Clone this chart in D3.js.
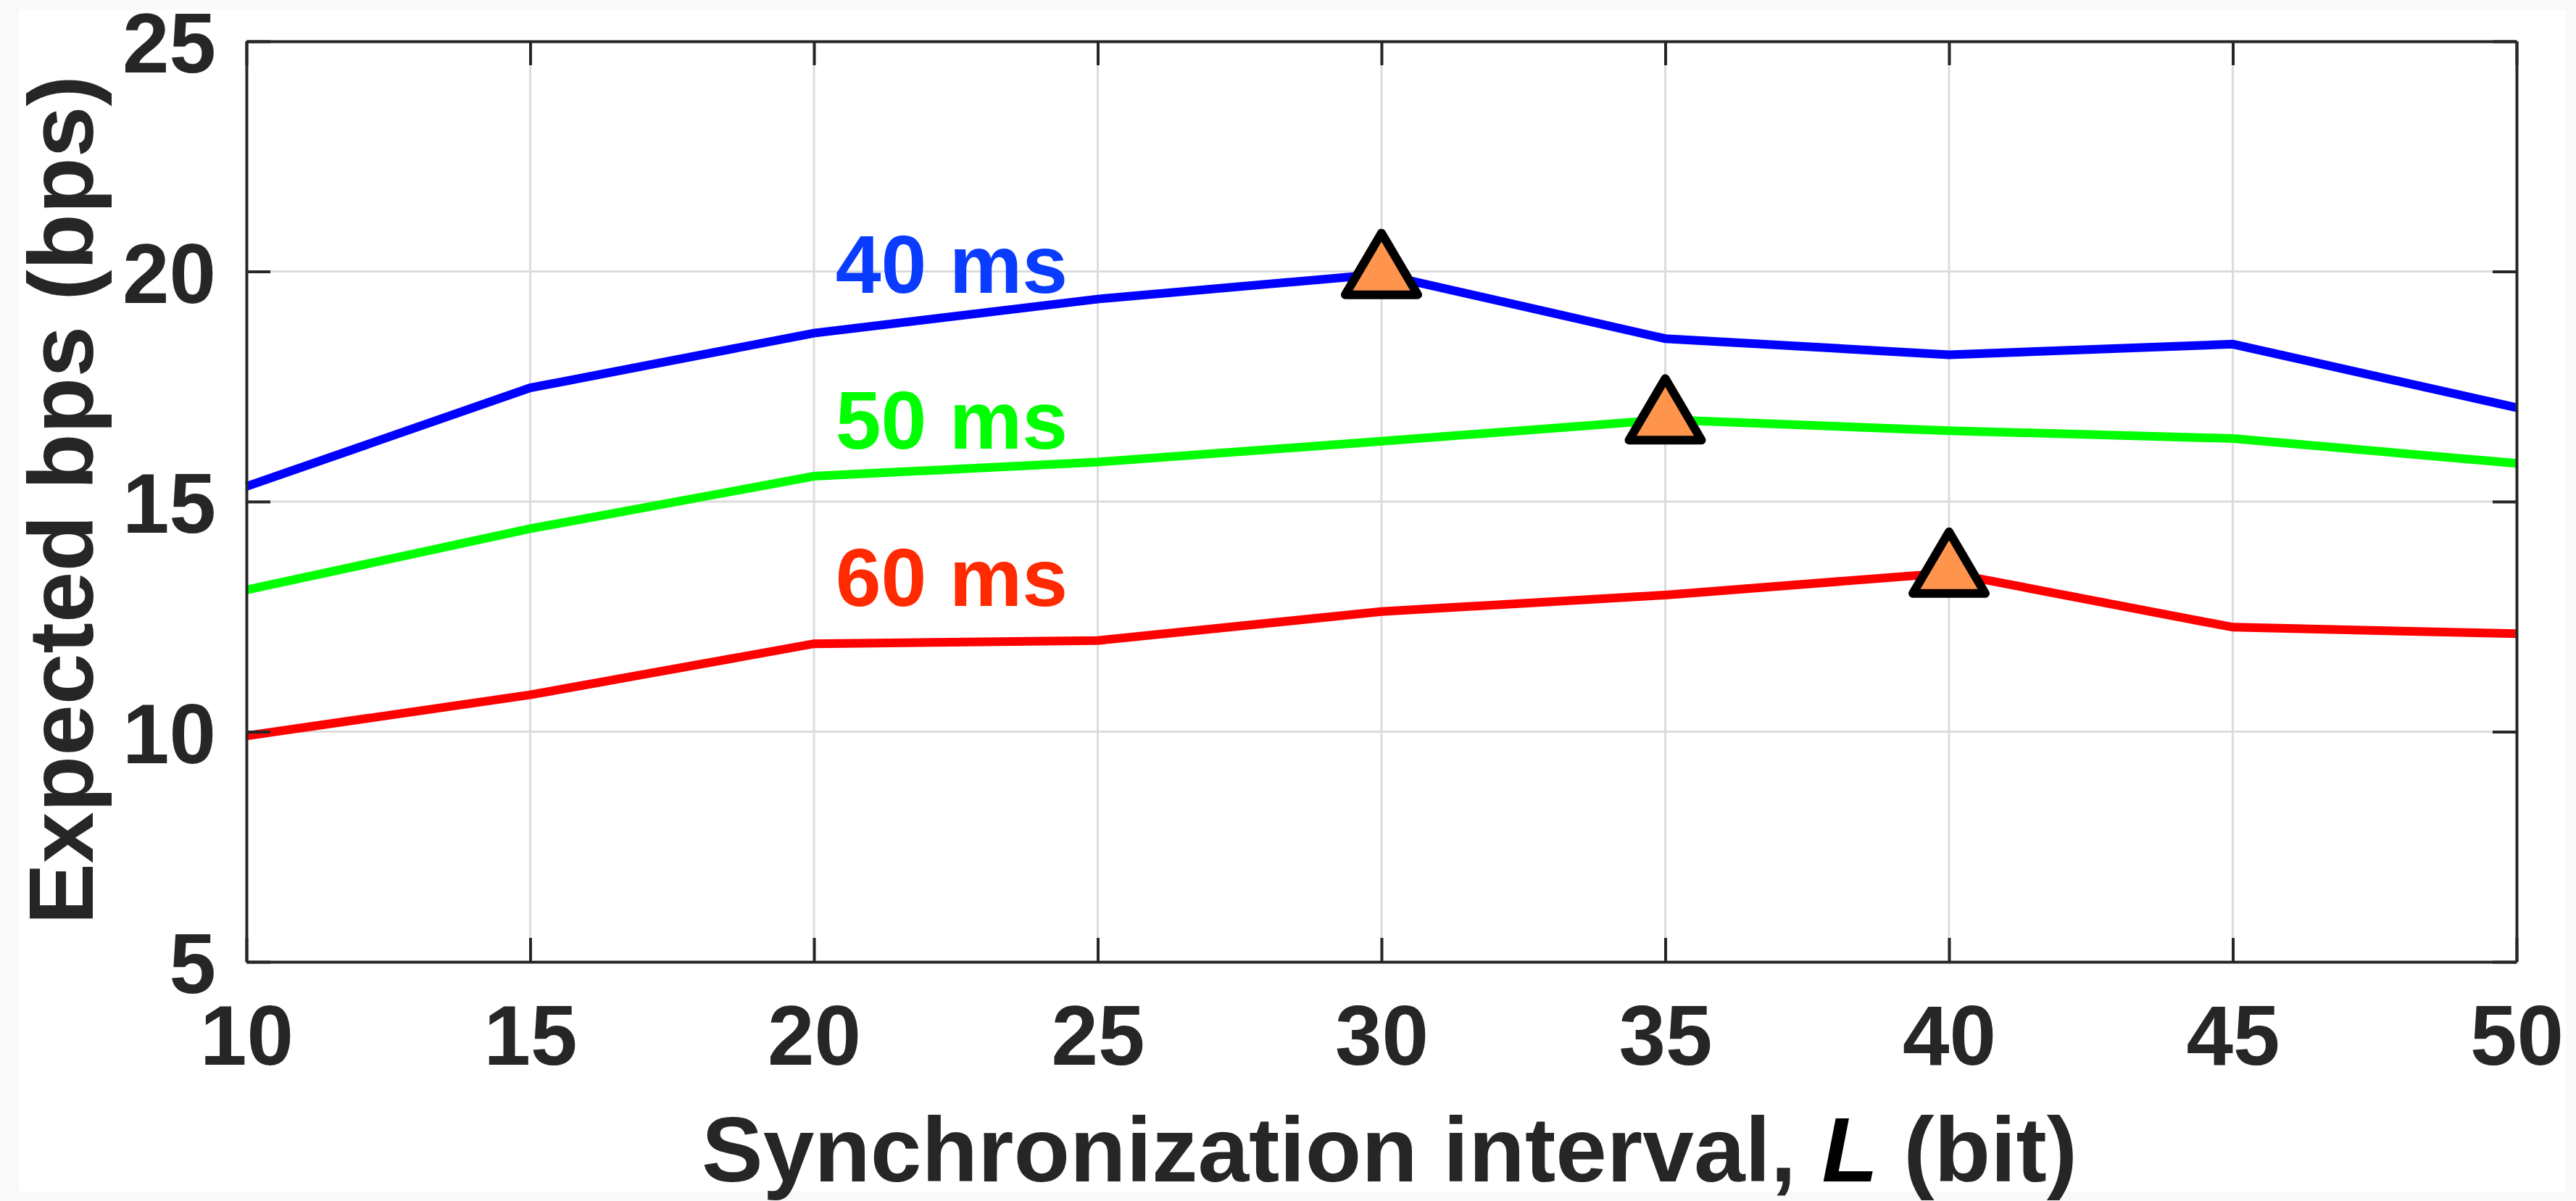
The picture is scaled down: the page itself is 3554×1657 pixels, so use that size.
<!DOCTYPE html>
<html>
<head>
<meta charset="utf-8">
<script src="https://cdn.jsdelivr.net/npm/d3@7"></script>
<style>
  body { margin: 0; background: #f9f9f9; }
  svg { display: block; }
  .tick text { font-family: "Liberation Sans", Arial, sans-serif; font-weight: bold; fill: #262626; }
</style>
</head>
<body>
<div id="chart"></div>
<script>
// values
let intervals = [10, 15, 20, 25, 30, 35, 40, 45, 50];
let bps40 = [15.33, 17.47, 18.66, 19.40, 19.94, 18.54, 18.19, 18.42, 17.04];
let bps50 = [13.08, 14.41, 15.55, 15.86, 16.31, 16.78, 16.54, 16.37, 15.83];
let bps60 = [9.91, 10.80, 11.91, 11.98, 12.61, 12.97, 13.45, 12.27, 12.13];
let seriesNames = ["40 ms", "50 ms", "60 ms"];
let xTicks = [10, 15, 20, 25, 30, 35, 40, 45, 50];
let yTicks = [5, 10, 15, 20, 25];
// peak markers (x of the best interval for each series)
let peakX = [30, 35, 40];
// where the series names sit, in data units (left edge, baseline)
let labelX = [20.38, 20.38, 20.38];
let labelY = [19.54, 16.15, 12.74];

let width = 3554;
let height = 1657;
let margin = { left: 340, right: 82, top: 57, bottom: 330 };

let svg = d3.select("#chart")
  .append("svg")
  .attr("width", width).attr("height", height);

svg.append("rect")
  .attr("x", 26).attr("y", 13)
  .attr("width", width - 40).attr("height", height - 26)
  .attr("fill", "white");

let xScale = d3.scaleLinear()
  .domain([10, 50])
  .range([margin.left, width - margin.right]);

let yScale = d3.scaleLinear()
  .domain([5, 25])
  .range([height - margin.bottom, margin.top]);

let ink = "#262626";
let font = "'Liberation Sans', Arial, sans-serif";

// grid
svg.append("g")
  .selectAll("line")
  .data(xTicks.slice(1, -1))
  .enter()
  .append("line")
  .attr("x1", d => xScale(d)).attr("x2", d => xScale(d))
  .attr("y1", yScale(5)).attr("y2", yScale(25))
  .attr("stroke", "#dcdcdc").attr("stroke-width", 3);

svg.append("g")
  .selectAll("line")
  .data(yTicks.slice(1, -1))
  .enter()
  .append("line")
  .attr("x1", xScale(10)).attr("x2", xScale(50))
  .attr("y1", d => yScale(d)).attr("y2", d => yScale(d))
  .attr("stroke", "#dcdcdc").attr("stroke-width", 3);

// lines
let series = [
  { name: seriesNames[0], values: bps40, color: "#0000ff", label: "#0a3cff" },
  { name: seriesNames[1], values: bps50, color: "#00ff00", label: "#00ff00" },
  { name: seriesNames[2], values: bps60, color: "#ff0000", label: "#ff2a00" }
];

let line = d3.line()
  .x((d, i) => xScale(intervals[i]))
  .y(d => yScale(d));

svg.append("g")
  .selectAll(".datapath")
  .data(series)
  .enter()
  .append("path")
  .attr("class", "datapath")
  .attr("d", d => line(d.values))
  .attr("fill", "none")
  .attr("stroke", d => d.color)
  .attr("stroke-width", 12);

// axes box with inward ticks on all four sides
let tickLen = 33;
function styleAxis(g) {
  g.select(".domain").attr("stroke", ink).attr("stroke-width", 4);
  g.selectAll(".tick line").attr("stroke", ink).attr("stroke-width", 4);
}

svg.append("g")
  .attr("transform", "translate(0," + yScale(5) + ")")
  .call(d3.axisBottom(xScale).tickValues(xTicks).tickSize(-tickLen).tickPadding(60).tickSizeOuter(0))
  .call(styleAxis)
  .selectAll("text")
  .attr("font-size", 116).attr("font-family", font);

svg.append("g")
  .attr("transform", "translate(0," + yScale(25) + ")")
  .call(d3.axisTop(xScale).tickValues(xTicks).tickSize(-tickLen).tickFormat("").tickSizeOuter(0))
  .call(styleAxis);

svg.append("g")
  .attr("transform", "translate(" + xScale(10) + ",0)")
  .call(d3.axisLeft(yScale).tickValues(yTicks).tickSize(-tickLen).tickPadding(42).tickSizeOuter(0))
  .call(styleAxis)
  .selectAll("text")
  .attr("font-size", 116).attr("font-family", font)
  .attr("dy", "0.37em");

svg.append("g")
  .attr("transform", "translate(" + xScale(50) + ",0)")
  .call(d3.axisRight(yScale).tickValues(yTicks).tickSize(-tickLen).tickFormat("").tickSizeOuter(0))
  .call(styleAxis);

// peak triangles, centroid on the data point
let tw = 50, th = 85;
let tri = "M0," + (-2 * th / 3) + "L" + tw + "," + (th / 3) + "L" + (-tw) + "," + (th / 3) + "Z";

svg.append("g")
  .selectAll("path")
  .data(series)
  .enter()
  .append("path")
  .attr("d", tri)
  .attr("transform", (d, i) => {
    let k = intervals.indexOf(peakX[i]);
    return "translate(" + xScale(peakX[i]) + "," + yScale(d.values[k]) + ")";
  })
  .attr("fill", "#ff944d")
  .attr("stroke", "black")
  .attr("stroke-width", 12)
  .attr("stroke-linejoin", "round");

// series labels
svg.append("g")
  .selectAll("text")
  .data(series)
  .enter()
  .append("text")
  .attr("x", (d, i) => xScale(labelX[i]))
  .attr("y", (d, i) => yScale(labelY[i]))
  .attr("font-family", font)
  .attr("font-weight", "bold")
  .attr("font-size", 113)
  .attr("fill", d => d.label)
  .text(d => d.name);

// axis titles
let xTitle = svg.append("text")
  .attr("x", 1917).attr("y", 1630)
  .attr("text-anchor", "middle")
  .attr("font-family", font)
  .attr("font-weight", "bold")
  .attr("font-size", 127)
  .attr("fill", ink);
xTitle.append("tspan").text("Synchronization interval, ");
xTitle.append("tspan").attr("font-style", "italic").attr("fill", "black").text("L");
xTitle.append("tspan").text(" (bit)");

svg.append("text")
  .attr("transform", "translate(128,690) rotate(-90)")
  .attr("text-anchor", "middle")
  .attr("font-family", font)
  .attr("font-weight", "bold")
  .attr("font-size", 127)
  .attr("fill", ink)
  .text("Expected bps (bps)");
</script>
</body>
</html>
